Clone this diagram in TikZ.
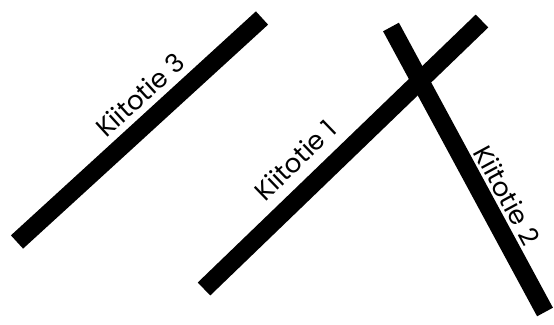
\documentclass[tikz,border=0pt]{standalone}
\usepackage{fontspec}
\setmainfont{Poppins}
\usepackage{tikz}

\begin{document}
\begin{tikzpicture}[
    x=1pt, y=-1pt,
    runway/.style={
        draw=black,
        line width=18pt,
        line cap=butt
    },
    runwayname/.style={
        font=\fontsize{26}{26}\selectfont,
        inner sep=0pt
    }
]
\useasboundingbox (0,0) rectangle (554,324);
\coordinate (r1a) at (204,289);
\coordinate (r1b) at (482,21);
\coordinate (r2a) at (391,27);
\coordinate (r2b) at (545,312);
\coordinate (r3a) at (17,242);
\coordinate (r3b) at (262,18);

\draw[runway] (r1a) -- (r1b);
\draw[runway] (r2a) -- (r2b);
\draw[runway] (r3a) -- (r3b);

\node[runwayname, rotate=44] (n1) at (295,160) {Kiitotie 1};
\node[runwayname, rotate=-61.6] (n2) at (507,195) {Kiitotie 2};
\node[runwayname, rotate=42.4] (n3) at (140,95) {Kiitotie 3};
\end{tikzpicture}
\end{document}
